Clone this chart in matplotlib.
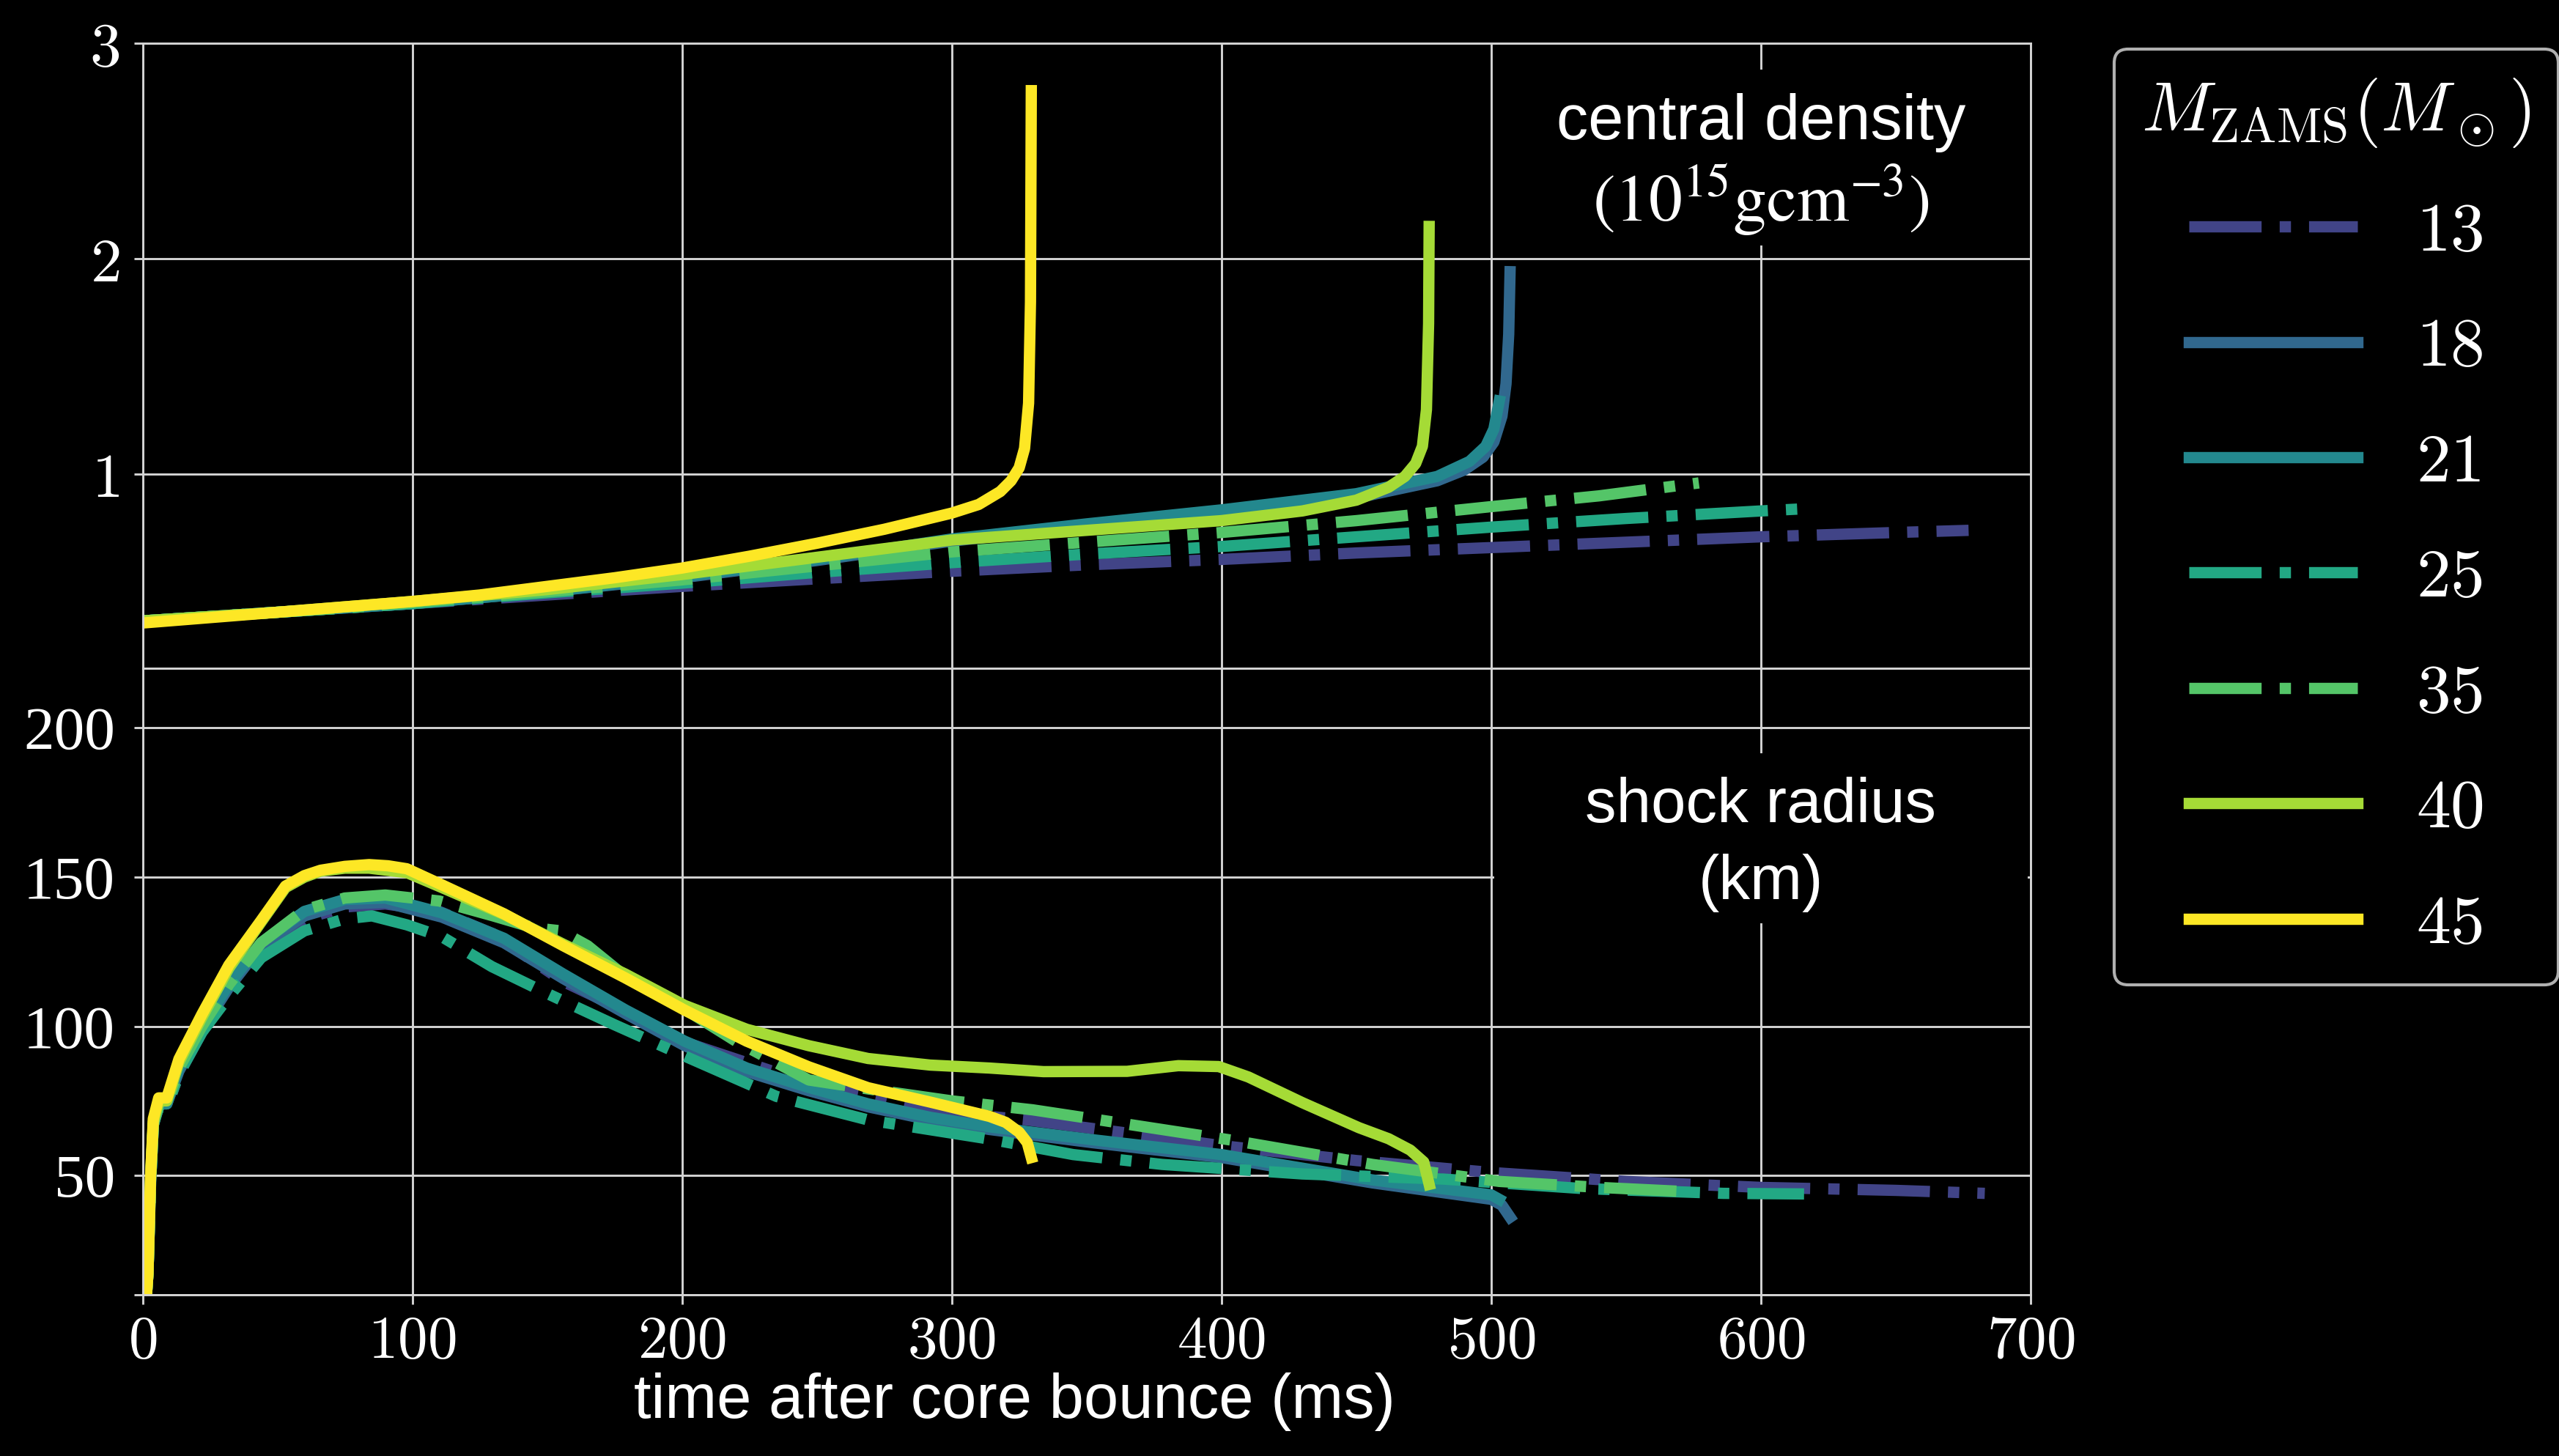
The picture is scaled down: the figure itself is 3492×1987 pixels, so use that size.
import numpy as np
import matplotlib
matplotlib.use('Agg')
import matplotlib.pyplot as plt
from matplotlib.patches import Rectangle

plt.rcParams['mathtext.fontset'] = 'cm'
plt.rcParams['font.family'] = ['Liberation Sans', 'DejaVu Sans']

# ---------------- data ----------------
masses = ['13', '18', '21', '25', '35', '40', '45']
styles = ['-.', '-', '-', '-.', '-.', '-', '-']

# central density (10^15 g/cm^3)
t13_rho = [0, 25, 50, 75, 100, 150, 200, 250, 300, 350, 400, 450, 500, 550, 600, 650, 677]
rho13 = [0.32, 0.34, 0.36, 0.38, 0.40, 0.44, 0.48, 0.515, 0.55, 0.58, 0.605, 0.635, 0.66, 0.685, 0.71, 0.73, 0.74]
t18_rho = [0, 25, 50, 75, 100, 150, 200, 250, 300, 350, 400, 450, 480, 490, 497, 501, 504, 505.5, 506.5, 507]
rho18 = [0.32, 0.34, 0.36, 0.38, 0.40, 0.455, 0.52, 0.60, 0.69, 0.76, 0.82, 0.89, 0.97, 1.02, 1.08, 1.15, 1.27, 1.42, 1.65, 1.94]
t21_rho = [0, 25, 50, 75, 100, 150, 200, 250, 300, 350, 400, 450, 480, 492, 498, 501, 503]
rho21 = [0.32, 0.34, 0.36, 0.38, 0.40, 0.455, 0.525, 0.605, 0.70, 0.77, 0.835, 0.91, 0.99, 1.06, 1.13, 1.21, 1.34]
t25_rho = [0, 25, 50, 75, 100, 150, 200, 250, 300, 350, 400, 450, 500, 550, 600, 616]
rho25 = [0.32, 0.34, 0.36, 0.38, 0.40, 0.45, 0.495, 0.545, 0.59, 0.63, 0.665, 0.71, 0.755, 0.795, 0.83, 0.84]
t35_rho = [0, 25, 50, 75, 100, 150, 200, 250, 300, 350, 400, 450, 500, 540, 577]
rho35 = [0.32, 0.34, 0.36, 0.38, 0.405, 0.455, 0.51, 0.575, 0.64, 0.685, 0.73, 0.785, 0.85, 0.90, 0.96]
t40_rho = [0, 25, 50, 75, 100, 150, 200, 250, 300, 350, 400, 430, 450, 462, 468, 472, 474.5, 476, 476.8, 477]
rho40 = [0.32, 0.34, 0.36, 0.385, 0.41, 0.465, 0.535, 0.615, 0.695, 0.74, 0.785, 0.83, 0.88, 0.94, 0.99, 1.05, 1.13, 1.3, 1.7, 2.15]
t45_rho = [0, 25, 50, 75, 100, 125, 150, 175, 200, 225, 250, 275, 300, 310, 318, 322, 325, 327, 328.5, 329.2, 329.5]
rho45 = [0.31, 0.335, 0.36, 0.385, 0.41, 0.44, 0.48, 0.52, 0.565, 0.62, 0.68, 0.745, 0.82, 0.86, 0.92, 0.97, 1.03, 1.12, 1.33, 1.8, 2.78]

# shock radius (km)
t13_rs = [1.5, 2, 3, 4, 6, 9, 13.5, 22, 32, 44, 60, 75, 90, 110, 130, 156, 170, 200, 250, 300, 328, 350, 400, 450, 500, 550, 600, 650, 683]
rs13 = [10.5, 17, 48, 67, 73, 73, 84, 98, 112, 126, 136, 140, 141, 138.5, 131, 115, 109, 95, 80, 71, 68.6, 66, 60, 55, 51, 48, 46, 45, 44]
t18_rs = [1.5, 2, 3, 4, 6, 9, 13.5, 22, 32, 44, 60, 75, 90, 111, 134, 156, 179, 201, 224, 247, 269, 292, 314, 352, 400, 456, 500, 504, 507]
rs18 = [10.5, 17, 48, 67, 74, 74, 85, 99, 113, 127, 137, 141, 141.5, 136.6, 128, 116, 104.3, 93.5, 84.8, 78.4, 73, 68.6, 65.4, 61, 56, 47.5, 42, 40, 36]
t21_rs = [1.5, 2, 3, 4, 6, 9, 13.5, 22, 32, 44, 60, 75, 90, 111, 134, 156, 179, 201, 224, 247, 269, 292, 314, 352, 400, 456, 500, 503]
rs21 = [10.5, 17, 48, 67, 74, 74, 86, 100, 114, 128, 138.5, 142.5, 143, 138, 129.5, 117.5, 105.5, 95, 86, 79.5, 74, 69.5, 66.3, 62, 57, 48.5, 43.5, 42]
t25_rs = [1.5, 2, 3, 4, 6, 9, 13.5, 22, 32, 44, 60, 75, 85, 98, 111, 129.5, 150, 175, 201, 235, 269, 314, 345, 378, 430, 482, 534, 586, 616]
rs25 = [10.5, 17, 48, 67, 73, 73, 84, 98, 110, 123, 132, 136, 137, 134, 130, 120, 111, 100.5, 90, 76.5, 68.6, 62.2, 57, 53.7, 50.5, 48.8, 45.6, 44, 43.8]
t35_rs = [1.5, 2, 3, 4, 6, 9, 13.5, 22, 32, 44, 60, 75, 90, 110, 130, 145, 155, 165, 180, 197, 220, 247, 269, 300, 330, 352, 404, 456, 503, 540, 572]
rs35 = [10.5, 17, 48, 67, 74, 74, 86, 100, 114, 128, 139, 143, 144, 142, 137, 133, 132, 127, 116, 108, 95, 82, 79, 75, 72, 69, 61.8, 53.7, 48, 46, 44.6]
t40_rs = [1.5, 2, 3, 4, 6, 9, 13.5, 22, 32, 44, 53, 60, 66, 75, 84, 98, 111, 134, 156, 179, 201, 224, 247, 269, 292, 314, 334, 365, 384, 399, 410, 430, 451, 462, 470, 475, 477]
rs40 = [10.5, 17, 50, 68, 75, 75, 88, 103, 119.5, 135, 146.5, 150, 152, 153, 153, 151.5, 146.5, 137.5, 127.5, 117.5, 107, 99, 93.5, 89.2, 87, 86, 84.8, 84.9, 86.8, 86.5, 83, 74.4, 66, 62.3, 58.5, 54.5, 47]
t45_rs = [1.5, 2, 3, 4, 6, 9, 13.5, 22, 32, 44, 53, 60, 66, 75, 84, 91, 98, 111, 134, 156, 179, 201, 224, 247, 269, 292, 314, 320, 325, 328, 329.5]
rs45 = [10.5, 17, 50, 69, 76, 76, 89, 104, 120.5, 135.5, 147, 150.5, 152.3, 153.6, 154.2, 153.8, 152.8, 147.4, 137.7, 127, 116.2, 105.4, 95, 86.4, 79.4, 74.6, 69.8, 67.8, 64.5, 61, 56]

rho_t = [t13_rho, t18_rho, t21_rho, t25_rho, t35_rho, t40_rho, t45_rho]
rho_v = [rho13, rho18, rho21, rho25, rho35, rho40, rho45]
rs_t = [t13_rs, t18_rs, t21_rs, t25_rs, t35_rs, t40_rs, t45_rs]
rs_v = [rs13, rs18, rs21, rs25, rs35, rs40, rs45]

x_ticks = [0, 100, 200, 300, 400, 500, 600, 700]
rho_ticks = [1, 2, 3]
rs_ticks = [10, 50, 100, 150, 200]
rs_ticklabels = ['', '50', '100', '150', '200']

# ---------------- figure ----------------
W, H = 3492, 1987
DPI = 300
fig = plt.figure(figsize=(W / DPI, H / DPI), dpi=DPI, facecolor='black')
L = 194.5 / W
R = 2771 / W
T = 1 - 59 / H
M = 1 - 912 / H
B = 1 - 1767 / H
ax1 = fig.add_axes([L, M, R - L, T - M])
ax2 = fig.add_axes([L, B, R - L, M - B], sharex=ax1)

colors = plt.cm.viridis(np.linspace(0.2, 1.0, 7))
GRID = '#d4d4d4'
LW = 3.7

for ax in (ax1, ax2):
    ax.set_facecolor('black')
    ax.set_axisbelow(True)
    ax.grid(True, color=GRID, lw=0.7)
    for sp in ax.spines.values():
        sp.set_color(GRID)
        sp.set_linewidth(0.7)
    ax.tick_params(colors=GRID, labelcolor='white', length=3, width=0.7, direction='out')

handles = []
for i in range(7):
    h, = ax1.plot(rho_t[i], rho_v[i], styles[i], color=colors[i], lw=LW, zorder=2)
    ax2.plot(rs_t[i], rs_v[i], styles[i], color=colors[i], lw=LW, zorder=2)
    handles.append(h)

ax1.set_xlim(0, 700)
ax1.set_ylim(0.1, 3.0)
ax2.set_ylim(10, 220)

ax1.set_yticks(rho_ticks)
ax1.set_yticklabels(['$%d$' % v for v in rho_ticks], fontsize=20.5)
ax1.tick_params(axis='y', pad=4.5)
ax1.tick_params(axis='x', labelbottom=False, length=0)

ax2.set_yticks(rs_ticks)
ax2.set_yticklabels(rs_ticklabels, fontsize=20, family='Liberation Serif')
ax2.tick_params(axis='y', pad=6)
ax2.set_xticks(x_ticks)
ax2.set_xticklabels(['$%d$' % v for v in x_ticks], fontsize=19.5)
ax2.tick_params(axis='x', pad=3.5)

# black masks behind annotation text
ax1.add_patch(Rectangle((501, 2.06), 198, 0.817, facecolor='black', edgecolor='none', zorder=1))
ax2.add_patch(Rectangle((501, 134.6), 198, 56.8, facecolor='black', edgecolor='none', zorder=1))

ax1.text(600, 2.632, 'central density', ha='center', va='center', fontsize=20.8, color='white', zorder=5)
ax1.text(600, 2.27, r'$(10^{15}\mathrm{gcm}^{-3})$', ha='center', va='center', fontsize=22,
         color='white', math_fontfamily='stix', zorder=5)
ax2.text(600, 173.8, 'shock radius', ha='center', va='center', fontsize=20.5, color='white', zorder=5)
ax2.text(600, 148, '(km)', ha='center', va='center', fontsize=20.5, color='white', zorder=5)

fig.text(1384 / W, 1 - 1935 / H, 'time after core bounce (ms)', ha='center', va='baseline',
         fontsize=20.4, color='white')

leg = fig.legend(handles, ['$%s$' % m for m in masses], loc='upper left',
                 bbox_to_anchor=(2885 / W, 1 - 67 / H), bbox_transform=fig.transFigure,
                 frameon=True, fancybox=True, facecolor='black', edgecolor='#b0b0b0', framealpha=1,
                 fontsize=22.5, title=r'$M_{\rm ZAMS}(M_\odot)$', title_fontsize=23,
                 handlelength=2.45, handletextpad=0.85, labelspacing=0.73, borderpad=0.4,
                 borderaxespad=0)
for t in leg.get_texts():
    t.set_color('white')
leg.get_title().set_color('white')
leg.get_frame().set_linewidth(1.0)

fig.savefig('out.png', dpi=DPI, facecolor='black')
